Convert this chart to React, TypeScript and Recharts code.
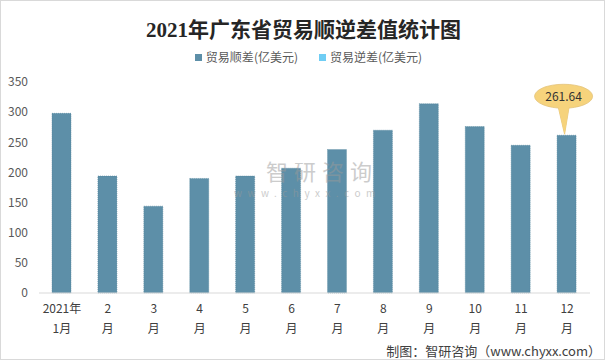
import { BarChart, Bar, XAxis, YAxis, Legend, LabelList } from 'recharts'

const months = ['2021年1月', '2月', '3月', '4月', '5月', '6月', '7月', '8月', '9月', '10月', '11月', '12月']
const tickTop = ['2021年', '2', '3', '4', '5', '6', '7', '8', '9', '10', '11', '12']
const tickBottom = ['1月', '月', '月', '月', '月', '月', '月', '月', '月', '月', '月', '月']
const surplus = [298, 194, 144, 190, 194, 207, 238, 270, 314, 276, 245, 261.64]
const deficit = [0, 0, 0, 0, 0, 0, 0, 0, 0, 0, 0, 0]
const yTicks = [0, 50, 100, 150, 200, 250, 300, 350]
const seriesOrder = ['贸易顺差', '贸易逆差']

const data = months.map((m, i) => ({
  month: m,
  贸易顺差: surplus[i],
  贸易逆差: deficit[i],
}))

const FONT = "'Noto Sans CJK SC', sans-serif"

function MonthTick(props: any) {
  const { x, y, index } = props
  return (
    <text x={x} y={y} textAnchor="middle" fontSize={12} fill="#404040" fontFamily={FONT}>
      <tspan x={x} dy={12}>{tickTop[index]}</tspan>
      <tspan x={x} dy={20}>{tickBottom[index]}</tspan>
    </text>
  )
}

function Callout(props: any) {
  const { x, y, width, value, index } = props
  if (index !== surplus.length - 1) return null
  const tipX = x + width / 2 - 2
  const cx = x + width / 2 - 3
  const cy = y - 39
  return (
    <g>
      <path d={`M${cx - 6},${cy + 8} L${tipX},${y - 1} L${cx + 6},${cy + 8} Z`} fill="#F6D37C" stroke="#E3C37A" strokeWidth={0.8} />
      <ellipse cx={cx} cy={cy} rx={29} ry={12} fill="#F6D37C" stroke="#E3C37A" strokeWidth={0.8} />
      <path d={`M${cx - 5.5},${cy + 10} L${tipX},${y - 1} L${cx + 5.5},${cy + 10} Z`} fill="#F6D37C" />
      <text x={cx} y={cy + 4.5} textAnchor="middle" fontSize={12} fill="#333" fontFamily={FONT}>{value}</text>
    </g>
  )
}

function LegendBox(props: any) {
  const items = [...(props.payload || [])].sort(
    (a: any, b: any) => seriesOrder.indexOf(a.value) - seriesOrder.indexOf(b.value)
  )
  return (
    <div style={{ display: 'flex', justifyContent: 'center', gap: 21, fontSize: 12, color: '#595959', fontFamily: FONT, lineHeight: '14px', paddingBottom: 18, paddingLeft: 26 }}>
      {items.map((p: any) => (
        <span key={p.value} style={{ display: 'flex', alignItems: 'center' }}>
          <span style={{ width: 7, height: 7, background: p.color, marginRight: 4, display: 'inline-block' }} />
          {p.value}(亿美元)
        </span>
      ))}
    </div>
  )
}

export default function App() {
  return (
    <div style={{ position: 'absolute', left: 0, top: 0, width: 605, height: 360, boxSizing: 'border-box', border: '1px solid #D9D9D9', background: '#fff', fontFamily: FONT }}>
      <div style={{ position: 'absolute', top: 12, left: 0, width: 605, textAlign: 'center', fontSize: 21, fontWeight: 'bold', color: '#262626', fontFamily: "'Liberation Serif', 'Noto Sans CJK SC', serif" }}>
        2021年广东省贸易顺逆差值统计图
      </div>
      <BarChart width={603} height={358} data={data} margin={{ top: 49, right: 14, left: 0, bottom: 36 }} style={{ position: 'absolute', left: 0, top: 0 }}>
        <Legend verticalAlign="top" content={<LegendBox />} />
        <XAxis dataKey="month" interval={0} tickLine={false} axisLine={{ stroke: '#D9D9D9' }} tick={<MonthTick />} height={30} />
        <YAxis domain={[0, 350]} ticks={yTicks} axisLine={false} tickLine={false} width={38} tickMargin={5} tick={{ fontSize: 12, fill: '#595959', fontFamily: FONT }} />
        <Bar dataKey="贸易顺差" stackId="a" fill="#5D8FA8" stroke="#4F8199" strokeWidth={0.6} strokeDasharray="1 1" barSize={19} isAnimationActive={false}>
          <LabelList dataKey="贸易顺差" content={<Callout />} />
        </Bar>
        <Bar dataKey="贸易逆差" stackId="a" fill="#6FCDF4" barSize={19} isAnimationActive={false} />
      </BarChart>
      <div style={{ position: 'absolute', left: 229, top: 156, color: '#9A9A9A', opacity: 0.5, pointerEvents: 'none' }}>
        <div style={{ fontSize: 22, letterSpacing: 6, paddingLeft: 36, lineHeight: '26px', height: 26 }}>智研咨询</div>
        <div style={{ fontSize: 10, letterSpacing: 5.5, paddingLeft: 4, lineHeight: '12px', marginTop: 4 }}>www.chyxx.com</div>
      </div>
      <div style={{ position: 'absolute', right: 3, top: 340, fontSize: 13, color: '#404040' }}>
        制图：智研咨询（www.chyxx.com）
      </div>
    </div>
  )
}
